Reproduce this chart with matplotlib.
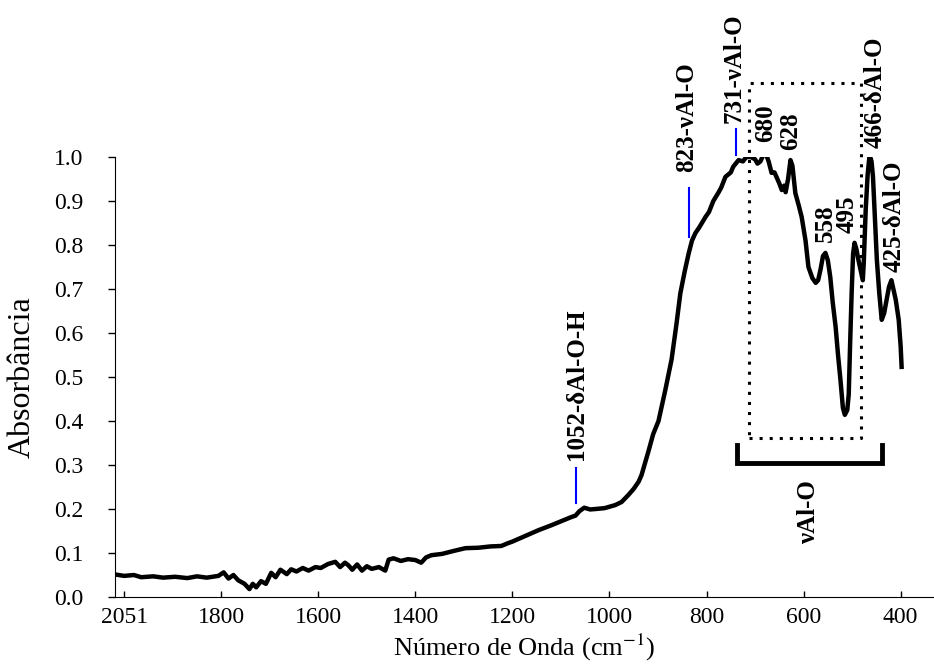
import matplotlib
matplotlib.use("Agg")
import matplotlib.pyplot as plt

plt.rcParams['font.family'] = ['Liberation Serif', 'DejaVu Serif']
plt.rcParams['mathtext.fontset'] = 'stix'

# espectro FTIR (numero de onda, absorbancia)
numero_onda = [2023, 2000, 1980, 1965, 1940, 1920, 1895, 1870, 1850, 1830, 1806, 1795, 1785,
               1775, 1765, 1752, 1742, 1735, 1728, 1718, 1708, 1697, 1688, 1678, 1665, 1656,
               1645, 1632, 1620, 1606, 1595, 1580, 1565, 1555, 1545, 1538, 1530, 1520, 1510,
               1500, 1490, 1475, 1462, 1455, 1445, 1430, 1415, 1400, 1388, 1378, 1367, 1345,
               1320, 1297, 1270, 1245, 1223, 1210, 1200, 1175, 1146, 1120, 1100, 1078, 1070,
               1062, 1052, 1040, 1029, 1010, 988, 975, 961, 950, 940, 934, 920, 910, 899, 885,
               872, 862, 854, 845, 837, 830, 823, 815, 802, 795, 786, 775, 770, 761, 750, 745,
               734, 725, 718, 709, 700, 695, 689, 683, 678, 672, 666, 660, 656, 650, 645, 640,
               637, 632, 627, 623, 617, 610, 604, 596, 590, 582, 575, 570, 565, 560, 555, 550,
               545, 540, 534, 529, 524, 519, 515, 510, 507, 504, 501, 498, 495, 491, 487, 482,
               478, 476, 472, 468, 464, 460, 457, 453, 449, 444, 439, 434, 429, 424, 419, 415,
               410, 404, 400, 398]
absorbancia = [0.052, 0.048, 0.050, 0.045, 0.047, 0.044, 0.046, 0.043, 0.047, 0.044, 0.048, 0.056,
               0.042, 0.050, 0.038, 0.030, 0.018, 0.030, 0.022, 0.036, 0.030, 0.055, 0.045, 0.062,
               0.052, 0.063, 0.058, 0.066, 0.060, 0.068, 0.066, 0.075, 0.080, 0.068, 0.078, 0.072,
               0.062, 0.074, 0.060, 0.070, 0.064, 0.068, 0.060, 0.085, 0.088, 0.082, 0.086, 0.084,
               0.078, 0.090, 0.095, 0.098, 0.105, 0.111, 0.112, 0.115, 0.116, 0.122, 0.126, 0.138,
               0.152, 0.163, 0.172, 0.182, 0.185, 0.195, 0.203, 0.199, 0.200, 0.202, 0.209, 0.216,
               0.232, 0.246, 0.262, 0.277, 0.33, 0.37, 0.40, 0.47, 0.54, 0.62, 0.69, 0.74, 0.78,
               0.81, 0.827, 0.84, 0.864, 0.875, 0.90, 0.92, 0.93, 0.955, 0.965, 0.978, 0.993, 0.99,
               1.0, 1.0, 0.995, 0.985, 0.99, 1.005, 1.008, 0.99, 0.964, 0.965, 0.955, 0.94, 0.925,
               0.935, 0.92, 0.95, 0.993, 0.98, 0.918, 0.89, 0.864, 0.81, 0.75, 0.725, 0.714, 0.72,
               0.745, 0.775, 0.782, 0.765, 0.727, 0.67, 0.614, 0.55, 0.493, 0.43, 0.414, 0.425,
               0.46, 0.58, 0.69, 0.78, 0.805, 0.79, 0.766, 0.74, 0.72, 0.76, 0.88, 0.96, 1.005,
               0.99, 0.955, 0.86, 0.766, 0.69, 0.63, 0.645, 0.675, 0.705, 0.72, 0.70, 0.675, 0.63,
               0.57, 0.523]

# ticks do eixo x (o primeiro rotulo foi trocado para 2051 no original)
xticks = [2000, 1800, 1600, 1400, 1200, 1000, 800, 600, 400]
xtick_labels = ["2051", "1800", "1600", "1400", "1200", "1000", "800", "600", "400"]
yticks = [0.0, 0.1, 0.2, 0.3, 0.4, 0.5, 0.6, 0.7, 0.8, 0.9, 1.0]

# bandas: (posicao, y da base do texto, texto)
bandas_pos = [1068, 841, 744, 678, 627, 555, 511, 452, 414]
bandas_y = [0.311, 0.966, 1.077, 1.034, 1.016, 0.807, 0.827, 1.02, 0.739]
bandas_txt = ["1052-δAl-O-H", "823-νAl-O", "731-νAl-O", "680", "628", "558", "495",
              "466-δAl-O", "425-δAl-O"]

# tracinhos azuis
marcas_x = [1068, 837, 740]
marcas_y0 = [0.214, 0.818, 1.005]
marcas_y1 = [0.293, 0.93, 1.064]

fig = plt.figure(figsize=(9.34, 6.69), dpi=100)
ax = fig.add_axes([0.1231, 0.1076, 0.876, 0.6577])

ax.plot(numero_onda, absorbancia, color="black", lw=3.2, solid_joinstyle="round")

ax.set_xlim(2019, 333)
ax.set_ylim(0, 1.0)
ax.set_xticks(xticks)
ax.set_xticklabels(xtick_labels)
ax.set_yticks(yticks)
ax.set_yticklabels(["%.1f" % v for v in yticks])

ax.spines['top'].set_visible(False)
ax.spines['right'].set_visible(False)
ax.tick_params(axis='x', direction='in', length=4, width=1, labelsize=17, pad=7)
ax.tick_params(axis='y', direction='out', length=5, width=1, labelsize=17, pad=18)

ax.set_xlabel("Número de Onda (cm$^{-1}$)", fontsize=19, labelpad=3)
ax.set_ylabel("Absorbância", fontsize=23, labelpad=12)

for i in range(len(marcas_x)):
    ax.plot([marcas_x[i], marcas_x[i]], [marcas_y0[i], marcas_y1[i]], color="blue", lw=1.5,
            clip_on=False)

for i in range(len(bandas_txt)):
    ax.text(bandas_pos[i], bandas_y[i], bandas_txt[i], rotation=90, ha="center", va="bottom",
            fontsize=18, fontweight="bold", clip_on=False)

# retangulo pontilhado da regiao de estiramento
rx0, rx1 = 713, 482
ry0, ry1 = 0.361, 1.168
ax.plot([rx0, rx1, rx1, rx0, rx0], [ry0, ry0, ry1, ry1, ry0], color="black", lw=2.2,
        linestyle=(0, (1, 2.3)), clip_on=False)

# colchete nuAl-O
ax.plot([738, 738, 439, 439], [0.345, 0.305, 0.305, 0.345], color="black", lw=3.5,
        solid_joinstyle="miter", clip_on=False)
ax.text(590, 0.193, "νAl-O", rotation=90, ha="center", va="center", fontsize=18,
        fontweight="bold")

fig.savefig("out.png", dpi=100)
